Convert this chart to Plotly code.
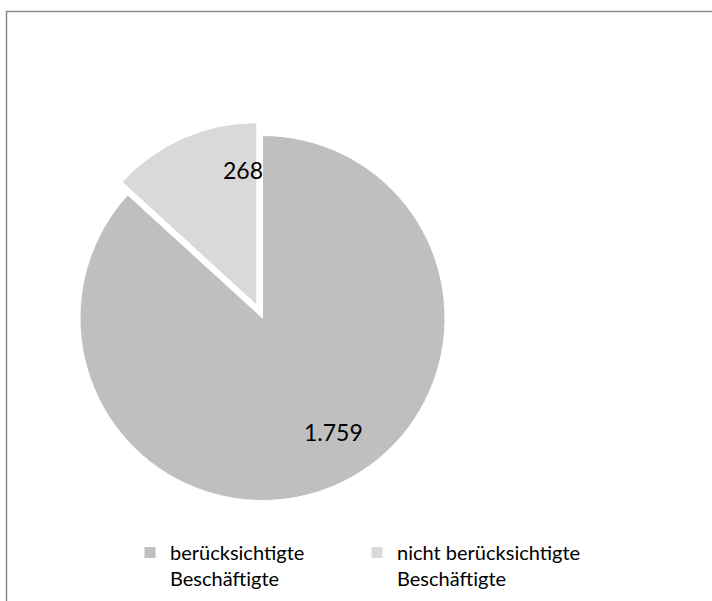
import math
import plotly.graph_objects as go

labels = ["berücksichtigte<br>Beschäftigte", "nicht berücksichtigte<br>Beschäftigte"]
values = [1759, 268]
colors = ["#BFBFBF", "#D9D9D9"]
pulls = [0, 0.077]

# label placement inside each slice (fraction of slice span, fraction of radius)
label_angle_frac = [0.474, 0.878]
label_radius_frac = [0.737, 0.744]

W, H = 712, 601
cx, cy, r = 262.5, 318, 182.5
half = r * (1 + max(pulls))

fig = go.Figure(go.Pie(
    labels=labels,
    values=values,
    sort=False,
    direction="clockwise",
    rotation=0,
    pull=pulls,
    marker=dict(colors=colors, line=dict(color="white", width=1)),
    textinfo="none",
    hoverinfo="label+value",
    domain=dict(x=[(cx - half) / W, (cx + half) / W],
                y=[(H - cy - half) / H, (H - cy + half) / H]),
))

total = sum(values)
annotations = []
start = 0.0
for v, p, af, rf in zip(values, pulls, label_angle_frac, label_radius_frac):
    span = 360.0 * v / total
    mid = math.radians(start + span / 2)
    ox, oy = cx + p * r * math.sin(mid), cy - p * r * math.cos(mid)
    a = math.radians(start + af * span)
    tx, ty = ox + rf * r * math.sin(a), oy - rf * r * math.cos(a)
    txt = f"{v:,}".replace(",", ".")
    annotations.append(dict(x=tx / W, y=1 - ty / H, xref="paper", yref="paper",
                            text=txt, showarrow=False, xanchor="center", yanchor="middle",
                            font=dict(family="Lato", size=23, color="black")))
    start += span

fig.update_layout(
    width=W, height=H,
    margin=dict(l=0, r=0, t=0, b=0),
    paper_bgcolor="white",
    separators=",.",
    font=dict(family="Lato", color="black"),
    showlegend=True,
    legend=dict(
        orientation="h",
        x=(130) / W, xanchor="left",
        y=1 - 533 / H, yanchor="top",
        valign="top",
        entrywidth=182,
        font=dict(family="Lato", size=20, color="black"),
        bgcolor="rgba(0,0,0,0)",
    ),
    annotations=annotations,
    shapes=[dict(type="rect", xref="paper", yref="paper",
                 x0=6.5 / W, x1=1.2, y0=-0.2, y1=1 - 11.5 / H,
                 line=dict(color="#8C8C8C", width=1.5), fillcolor="rgba(0,0,0,0)")],
)

fig.write_html("out.html")
